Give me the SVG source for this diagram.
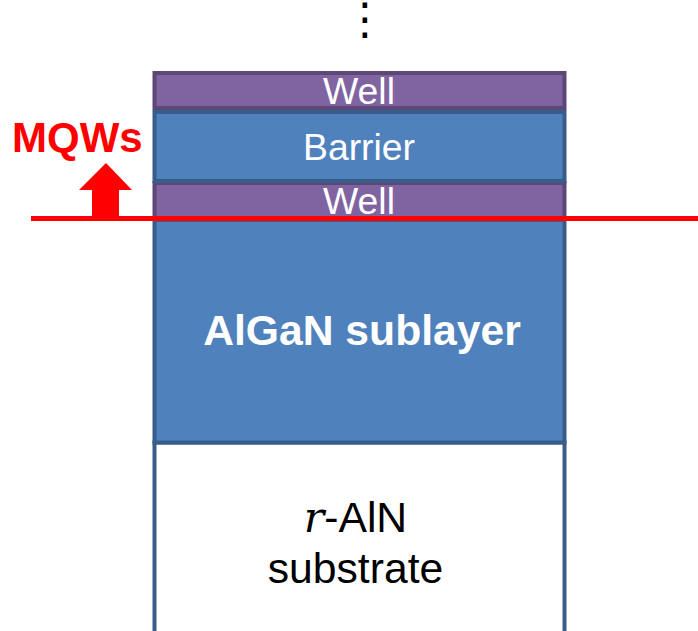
<svg xmlns="http://www.w3.org/2000/svg" width="698" height="631" viewBox="0 0 698 631">
  <style>
    .well { fill: #8064A2; stroke: #5C4776; stroke-width: 4; }
    .blue { fill: #4F81BD; stroke: #385D8A; stroke-width: 4; }
    .sub { fill: #FFFFFF; stroke: #385D8A; stroke-width: 4; }
    .lbl { font-family: "Liberation Sans", Arial, sans-serif; text-anchor: middle; fill: #FFFFFF; }
    .thin { font-size: 37.33px; }
    .big { font-size: 42.67px; }
    .bold { font-weight: bold; }
    .red { fill: #FF0000; }
  </style>

  <!-- continuation mark above the stack -->
  <g id="ellipsis">
    <text x="365" y="34" font-family="DejaVu Sans, sans-serif" font-size="44" text-anchor="middle" fill="#000000">⋮</text>
  </g>

  <!-- substrate (open at the bottom edge) -->
  <g id="substrate">
    <rect class="sub" x="154.5" y="442.5" width="410" height="220"/>
    <text class="lbl big" x="355.5" y="532" style="fill:#000000"><tspan font-family="DejaVu Serif, serif" font-style="italic">r</tspan>-AlN</text>
    <text class="lbl big" x="355.5" y="583" style="fill:#000000">substrate</text>
  </g>

  <!-- AlGaN sublayer -->
  <g id="algan">
    <rect class="blue" x="154.5" y="220" width="410" height="222.5"/>
    <text class="lbl big bold" x="362" y="345">AlGaN sublayer</text>
  </g>

  <!-- lower quantum well -->
  <g id="well-lower">
    <rect class="well" x="154.5" y="183" width="410" height="36"/>
    <text class="lbl thin" x="359" y="213.5">Well</text>
  </g>

  <!-- barrier -->
  <g id="barrier">
    <rect class="blue" x="154.5" y="112" width="410" height="69"/>
    <text class="lbl thin" x="359" y="159.5">Barrier</text>
  </g>

  <!-- upper quantum well -->
  <g id="well-upper">
    <rect class="well" x="154.5" y="73" width="410" height="35"/>
    <text class="lbl thin" x="359" y="104">Well</text>
  </g>

  <!-- MQW marker: interface line and up arrow -->
  <g id="connectors">
    <line x1="31" y1="218.5" x2="698" y2="218.5" stroke="#FF0000" stroke-width="5"/>
    <polygon class="red" points="106,163 132,190 119,190 119,218 92,218 92,190 79,190"/>
  </g>

  <g id="mqws">
    <text x="12" y="152" font-family="Liberation Sans, Arial, sans-serif" font-size="42" font-weight="bold" fill="#FF0000">MQWs</text>
  </g>
</svg>
